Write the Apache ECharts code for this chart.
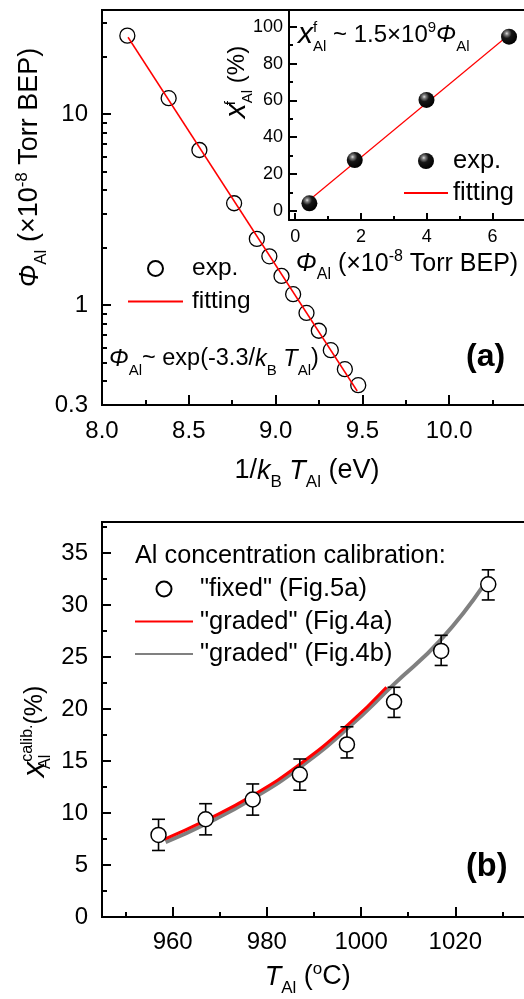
<!DOCTYPE html>
<html>
<head>
<meta charset="utf-8">
<script src="https://cdn.jsdelivr.net/npm/echarts@6/dist/echarts.min.js"></script>
<style>
  html, body { margin: 0; padding: 0; background: #fff; }
  #chart { width: 524px; height: 999px; }
</style>
</head>
<body>
<div id="chart"></div>
<script>
const FONT = '"Liberation Sans", Arial, Helvetica, sans-serif';

// (a) Arrhenius plot of the Al flux
const invKT = [8.146, 8.384, 8.561, 8.761, 8.892, 8.964, 9.034, 9.101, 9.178, 9.249, 9.318, 9.399, 9.476];
const fluxAl = [25.7, 12.1, 6.48, 3.41, 2.22, 1.80, 1.42, 1.14, 0.91, 0.734, 0.581, 0.462, 0.381];
const fitInvKT = [8.15, 9.47];
const fitFlux = [25.2, 0.355];
const fluxLabelValues = [0.3, 1, 10];
const fluxMajorTicks = [1, 10];
const fluxMinorTicks = [0.4, 0.5, 0.6, 0.7, 0.8, 0.9, 2, 3, 4, 5, 6, 7, 8, 9, 20, 30];
const invKTLabels = [8.0, 8.5, 9.0, 9.5, 10.0];
const invKTMajor = [8.0, 8.5, 9.0, 9.5, 10.0, 10.5];
const invKTMinor = [8.25, 8.75, 9.25, 9.75, 10.25];

// inset: x^f vs flux
const insetFlux = [0.43, 1.81, 3.99, 6.50];
const insetXf = [4.0, 27.5, 60.2, 94.6];
const insetFitFlux = [0.43, 6.5];
const insetFitXf = [5.8, 95.6];
const insetXLabels = [0, 2, 4, 6];
const insetXMinor = [1, 3, 5, 7];
const insetYLabels = [0, 20, 40, 60, 80, 100];
const insetYMinor = [10, 30, 50, 70, 90];

// (b) calibration vs cell temperature
const tempAl = [957, 967, 977, 987, 997, 1007, 1017, 1027];
const xCalib = [7.9, 9.4, 11.3, 13.7, 16.6, 20.7, 25.6, 32.0];
const xCalibLow = [6.4, 7.9, 9.8, 12.2, 15.3, 19.2, 24.2, 30.5];
const xCalibHigh = [9.4, 10.9, 12.8, 15.2, 18.3, 22.1, 27.1, 33.4];
const gradedATemp = [958.3, 967, 977, 987, 997, 1005.4];
const gradedA = [7.5, 9.3, 11.7, 14.7, 18.4, 22.1];
const gradedBTemp = [958.5, 967, 977, 987, 997, 1007, 1017, 1026];
const gradedB = [7.2, 8.95, 11.4, 14.4, 18.1, 22.4, 26.7, 31.9];
const tempLabels = [960, 980, 1000, 1020];
const tempMajor = [960, 980, 1000, 1020, 1040];
const tempMinor = [950, 970, 990, 1010, 1030];
const calibLabels = [0, 5, 10, 15, 20, 25, 30, 35];
const calibMinor = [2.5, 7.5, 12.5, 17.5, 22.5, 27.5, 32.5, 37.5];

const zip = (a, b) => a.map((v, i) => [v, b[i]]);

// rich text pieces for sub/superscripts
function rich(size, lh) {
  const s = Math.round(size * 0.64);
  const base = { fontFamily: FONT, color: '#000', fill: '#000' };
  return {
    n: Object.assign({}, base, { fontSize: size, lineHeight: lh, verticalAlign: 'middle' }),
    i: Object.assign({}, base, { fontSize: size, fontStyle: 'italic', lineHeight: lh, verticalAlign: 'middle' }),
    x: Object.assign({}, base, { fontSize: size + 6, fontStyle: 'italic', lineHeight: lh, verticalAlign: 'middle' }),
    b: Object.assign({}, base, { fontSize: s, lineHeight: s, verticalAlign: 'bottom' }),
    b0: Object.assign({}, base, { fontSize: s, lineHeight: s, verticalAlign: 'bottom', width: 0 }),
    t: Object.assign({}, base, { fontSize: s, lineHeight: s, verticalAlign: 'top', padding: [4, 0, 0, 0] }),
    t0: Object.assign({}, base, { fontSize: s, lineHeight: s, verticalAlign: 'top', padding: [4, 0, 0, 0], width: 0 })
  };
}

const black = '#000';

function ticks(values, len) {
  return { show: true, inside: true, length: len, customValues: values, lineStyle: { color: black, width: 2 } };
}

function labels(values, size, margin, fmt) {
  return { color: black, fontFamily: FONT, fontSize: size, margin: margin, customValues: values, formatter: fmt || (v => String(v)) };
}

function majorAxis(extra) {
  return Object.assign({
    type: 'value',
    nameLocation: 'middle',
    nameMoveOverlap: false,
    axisLine: { show: true, onZero: false, lineStyle: { color: black, width: 2 } },
    splitLine: { show: false }
  }, extra);
}

// second axis on the same grid, only for the short minor ticks
function minorAxis(extra, values, len) {
  return Object.assign({
    type: 'value',
    axisLine: { show: false, onZero: false },
    axisTick: ticks(values, len),
    axisLabel: { show: false },
    splitLine: { show: false }
  }, extra);
}

const option = {
  animation: false,
  backgroundColor: '#fff',
  textStyle: { fontFamily: FONT, color: black },
  grid: [
    { left: 102, top: 10, right: -12, bottom: 594, show: true, borderColor: black, borderWidth: 2, outerBoundsMode: 'none' },
    { left: 289, top: 10, right: -12, bottom: 779, show: false, outerBoundsMode: 'none' },
    { left: 102, top: 522, right: -25.5, bottom: 82, show: true, borderColor: black, borderWidth: 2, outerBoundsMode: 'none' }
  ],
  xAxis: [
    majorAxis({
      gridIndex: 0, position: 'bottom', min: 8, max: 10.5,
      name: '{n|1/}{i|k}{b|B}{n| }{i|T}{b|Al}{n| (eV)}',
      nameGap: 46,
      nameTextStyle: { rich: rich(27, 40), padding: [0, 24, 0, 0] },
      axisTick: ticks(invKTMajor, 10),
      axisLabel: labels(invKTLabels, 24, 14, v => v.toFixed(1))
    }),
    minorAxis({ gridIndex: 0, position: 'bottom', min: 8, max: 10.5 }, invKTMinor, 5),
    majorAxis({
      gridIndex: 1, position: 'bottom', min: -0.19, max: 7.32,
      name: '{i|Φ}{b|Al}{n| (×10}{t|-8}{n| Torr BEP)}',
      nameGap: 25,
      nameTextStyle: { rich: rich(25, 38), padding: [0, 11, 0, 0] },
      axisTick: ticks(insetXLabels, 7),
      axisLabel: labels(insetXLabels, 18, 8)
    }),
    minorAxis({ gridIndex: 1, position: 'bottom', min: -0.19, max: 7.32 }, insetXMinor, 4),
    majorAxis({
      gridIndex: 2, position: 'bottom', min: 945, max: 1040,
      name: '{i|T}{b|Al}{n| (}{t|o}{n|C)}',
      nameGap: 40,
      nameTextStyle: { rich: rich(27, 40), padding: [0, 36, 0, 0] },
      axisTick: ticks(tempMajor, 10),
      axisLabel: labels(tempLabels, 24, 13)
    }),
    minorAxis({ gridIndex: 2, position: 'bottom', min: 945, max: 1040 }, tempMinor, 5)
  ],
  yAxis: [
    majorAxis({
      gridIndex: 0, position: 'left', type: 'log', min: 0.3, max: 35,
      name: '{i|Φ}{b|Al}{n| (×10}{t|-8}{n| Torr BEP)}',
      nameGap: 52,
      nameTextStyle: { rich: rich(27, 40), padding: [0, 0, 0, 80] },
      axisTick: ticks(fluxMajorTicks, 9),
      axisLabel: labels(fluxLabelValues, 24, 14)
    }),
    minorAxis({ gridIndex: 0, position: 'left', type: 'log', min: 0.3, max: 35 }, fluxMinorTicks, 5),
    majorAxis({
      gridIndex: 1, position: 'left', min: -5.05, max: 109.1,
      name: '{x|x}{t0|f}{b|Al}{n| (%)}',
      nameGap: 34,
      nameTextStyle: { rich: rich(24, 36), padding: [0, 0, 0, 66] },
      axisTick: ticks(insetYLabels, 8),
      axisLabel: labels(insetYLabels, 18, 6)
    }),
    minorAxis({ gridIndex: 1, position: 'left', min: -5.05, max: 109.1 }, insetYMinor, 4),
    majorAxis({
      gridIndex: 2, position: 'left', min: 0, max: 38,
      name: '{x|x}{b0|Al}{t|calib.}{n|(%)}',
      nameGap: 48,
      nameTextStyle: { rich: rich(25, 38), padding: [0, 24, 0, 0] },
      axisTick: ticks(calibLabels, 9),
      axisLabel: labels(calibLabels, 24, 14)
    }),
    minorAxis({ gridIndex: 2, position: 'left', min: 0, max: 38 }, calibMinor, 5)
  ],
  legend: [
    {
      left: 127, top: 256, orient: 'vertical', itemWidth: 55, itemHeight: 15, itemGap: 8,
      selectedMode: false, padding: 0,
      data: ['expA', { name: 'fitA', itemStyle: { opacity: 0 } }],
      formatter: n => (n === 'expA' ? 'exp.' : 'fitting'),
      textStyle: { color: black, fontFamily: FONT, fontSize: 24.5, lineHeight: 24, padding: [0, 0, 0, 4] }
    },
    {
      left: 403, top: 148, orient: 'vertical', itemWidth: 44, itemHeight: 16, itemGap: 6,
      selectedMode: false, padding: 0,
      data: ['expInset', { name: 'fitInset', itemStyle: { opacity: 0 } }],
      formatter: n => (n === 'expInset' ? 'exp.' : 'fitting'),
      textStyle: { color: black, fontFamily: FONT, fontSize: 25.5, lineHeight: 24 }
    },
    {
      left: 134, top: 576, orient: 'vertical', itemWidth: 58, itemHeight: 15, itemGap: 6.5,
      selectedMode: false, padding: 0,
      data: [
        '"fixed" (Fig.5a)',
        { name: '"graded" (Fig.4a)', itemStyle: { opacity: 0 } },
        { name: '"graded" (Fig.4b)', itemStyle: { opacity: 0 } }
      ],
      textStyle: { color: black, fontFamily: FONT, fontSize: 25.5, lineHeight: 24, padding: [0, 0, 0, 2] }
    }
  ],
  graphic: [
    {
      type: 'text', left: 109, top: 347,
      style: { text: '{i|Φ}{b|Al}{n|~ exp(-3.3/}{i|k}{b|B}{n| }{i|T}{b|Al}{n|)}', rich: rich(23.5, 38) }
    },
    {
      type: 'text', left: 298, top: 16,
      style: { text: '{x|x}{t0|f}{b|Al}{n| ~ 1.5×10}{t|9}{i|Φ}{b|Al}', rich: rich(24, 38) }
    },
    {
      type: 'text', left: 466, top: 341,
      style: { text: '(a)', fontFamily: FONT, fontSize: 32, fontWeight: 'bold', fill: black }
    },
    {
      type: 'text', left: 135, top: 544,
      style: { text: 'Al concentration calibration:', fontFamily: FONT, fontSize: 25.3, fill: black }
    },
    {
      type: 'text', left: 466, top: 851,
      style: { text: '(b)', fontFamily: FONT, fontSize: 32.5, fontWeight: 'bold', fill: black }
    }
  ],
  series: [
    {
      name: 'expA', type: 'scatter', xAxisIndex: 0, yAxisIndex: 0,
      symbol: 'circle', symbolSize: 15,
      itemStyle: { color: 'rgba(255,255,255,0)', borderColor: black, borderWidth: 1.3, opacity: 1 },
      data: zip(invKT, fluxAl), z: 3
    },
    {
      name: 'fitA', type: 'line', xAxisIndex: 0, yAxisIndex: 0,
      symbol: 'none', showSymbol: false,
      lineStyle: { color: '#ff0000', width: 1.5 }, itemStyle: { color: '#ff0000' },
      data: zip(fitInvKT, fitFlux), z: 4
    },
    {
      name: 'expInset', type: 'scatter', xAxisIndex: 2, yAxisIndex: 2,
      symbol: 'circle', symbolSize: 16,
      itemStyle: {
        opacity: 1,
        color: {
          type: 'radial', x: 0.36, y: 0.3, r: 0.72,
          colorStops: [
            { offset: 0, color: '#e0e0e0' },
            { offset: 0.15, color: '#808080' },
            { offset: 0.42, color: '#161616' },
            { offset: 1, color: '#000' }
          ]
        }
      },
      data: zip(insetFlux, insetXf), z: 4
    },
    {
      name: 'fitInset', type: 'line', xAxisIndex: 2, yAxisIndex: 2,
      symbol: 'none', showSymbol: false,
      lineStyle: { color: '#ff0000', width: 1.2 }, itemStyle: { color: '#ff0000' },
      data: zip(insetFitFlux, insetFitXf), z: 3
    },
    {
      name: 'errors', type: 'custom', xAxisIndex: 4, yAxisIndex: 4,
      encode: { x: 0, y: [1, 2] },
      data: tempAl.map((t, i) => [t, xCalibLow[i], xCalibHigh[i]]),
      renderItem: (params, api) => {
        const lo = api.coord([api.value(0), api.value(1)]);
        const hi = api.coord([api.value(0), api.value(2)]);
        const w = 6.5;
        const st = { stroke: black, lineWidth: 1.6 };
        return {
          type: 'group',
          children: [
            { type: 'line', shape: { x1: lo[0], y1: lo[1], x2: hi[0], y2: hi[1] }, style: st },
            { type: 'line', shape: { x1: lo[0] - w, y1: lo[1], x2: lo[0] + w, y2: lo[1] }, style: st },
            { type: 'line', shape: { x1: hi[0] - w, y1: hi[1], x2: hi[0] + w, y2: hi[1] }, style: st }
          ]
        };
      },
      z: 4
    },
    {
      name: '"graded" (Fig.4b)', type: 'line', xAxisIndex: 4, yAxisIndex: 4,
      symbol: 'none', showSymbol: false, smooth: true,
      lineStyle: { color: '#808080', width: 4 }, itemStyle: { color: '#808080' },
      data: zip(gradedBTemp, gradedB), z: 2
    },
    {
      name: '"graded" (Fig.4a)', type: 'line', xAxisIndex: 4, yAxisIndex: 4,
      symbol: 'none', showSymbol: false, smooth: true,
      lineStyle: { color: '#ff0000', width: 3 }, itemStyle: { color: '#ff0000' },
      data: zip(gradedATemp, gradedA), z: 3
    },
    {
      name: '"fixed" (Fig.5a)', type: 'scatter', xAxisIndex: 4, yAxisIndex: 4,
      symbol: 'circle', symbolSize: 15,
      itemStyle: { color: '#fff', borderColor: black, borderWidth: 1.5, opacity: 1 },
      data: zip(tempAl, xCalib), z: 5
    }
  ]
};

const chart = echarts.init(document.getElementById('chart'));
chart.setOption(option);
</script>
</body>
</html>
